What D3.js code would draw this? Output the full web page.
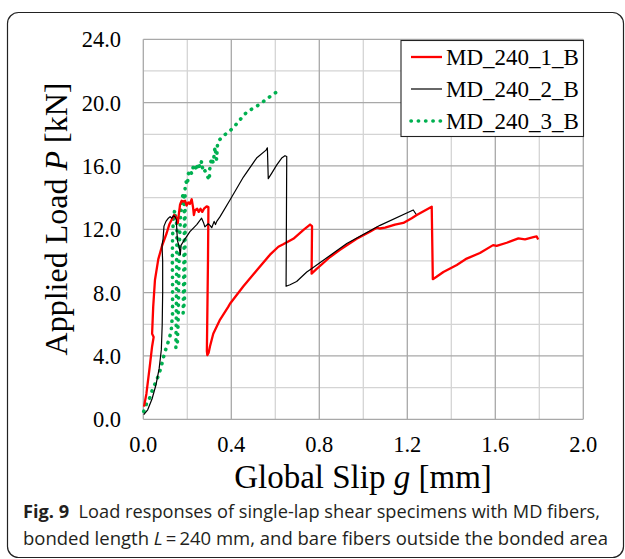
<!DOCTYPE html>
<html>
<head>
<meta charset="utf-8">
<script src="https://cdn.jsdelivr.net/npm/d3@7"></script>
<style>
  html, body { margin: 0; padding: 0; background: #fff; }
  svg { display: block; }
</style>
</head>
<body>
<svg id="chart" width="625" height="559"></svg>
<script>
// Load–slip responses, [slip g (mm), load P (kN)]
const specimen1 = [
  [0.003,0.8],[0.014,1.6],[0.029,3.3],[0.040,4.6],[0.047,5.2],[0.040,5.4],[0.045,7.1],[0.053,8.8],
  [0.068,10.1],[0.084,10.9],[0.106,11.75],[0.118,12.3],[0.129,12.6],[0.140,12.9],[0.150,12.75],
  [0.157,12.4],[0.162,13.0],[0.167,13.55],[0.174,13.8],[0.182,13.75],[0.190,13.8],[0.197,13.5],
  [0.205,13.7],[0.212,13.6],[0.220,13.9],[0.226,13.4],[0.230,12.9],[0.235,13.2],[0.245,13.3],
  [0.252,13.1],[0.260,13.3],[0.268,13.1],[0.276,13.3],[0.288,13.45],[0.296,13.4],[0.294,10.0],
  [0.289,4.3],[0.291,4.05],[0.297,4.2],[0.303,4.6],[0.318,5.4],[0.349,6.3],[0.386,7.1],[0.394,7.3],
  [0.455,8.4],[0.515,9.4],[0.576,10.4],[0.614,10.9],[0.636,11.05],[0.682,11.4],[0.727,11.95],
  [0.758,12.3],[0.767,12.2],[0.765,9.2],[0.788,9.5],[0.849,10.25],[0.894,10.7],[0.970,11.4],
  [1.030,11.85],[1.061,12.1],[1.075,12.05],[1.099,12.1],[1.144,12.3],[1.182,12.4],[1.220,12.7],
  [1.243,12.9],[1.311,13.43],[1.316,8.85],[1.333,9.0],[1.364,9.3],[1.425,9.75],[1.470,10.15],
  [1.530,10.5],[1.590,11.0],[1.606,10.95],[1.652,11.15],[1.705,11.43],[1.735,11.37],[1.773,11.5],
  [1.788,11.55],[1.795,11.35]
];
const specimen2 = [
  [0.002,0.3],[0.020,0.6],[0.040,1.3],[0.058,2.2],[0.072,3.2],[0.082,4.4],[0.086,6.0],[0.088,8.0],
  [0.088,10.0],[0.085,11.0],[0.090,11.4],[0.094,12.2],[0.103,12.5],[0.114,12.7],[0.122,12.8],
  [0.129,12.7],[0.137,12.85],[0.144,12.8],[0.150,12.6],[0.155,11.3],[0.163,10.9],[0.168,10.4],
  [0.172,11.0],[0.190,11.4],[0.212,11.85],[0.243,12.3],[0.265,12.7],[0.273,12.45],[0.280,12.15],
  [0.295,12.35],[0.303,12.25],[0.311,12.1],[0.322,12.5],[0.328,12.3],[0.334,12.5],[0.349,12.8],
  [0.394,13.85],[0.455,15.3],[0.515,16.5],[0.558,17.0],[0.564,17.15],[0.568,15.2],[0.584,15.55],
  [0.606,16.05],[0.629,16.5],[0.644,16.65],[0.652,16.6],[0.649,8.4],[0.667,8.5],[0.697,8.7],
  [0.720,9.0],[0.743,9.3],[0.758,9.45],[0.925,11.1],[1.076,12.25],[1.227,13.22],[1.240,12.95]
];
const specimen3 = [
  [0.002,0.5],[0.015,1.0],[0.029,1.35],[0.040,1.8],[0.055,2.3],[0.067,2.7],[0.079,3.2],[0.088,3.7],
  [0.097,4.2],[0.109,4.7],[0.120,5.2],[0.127,5.6],[0.133,6.7],[0.133,8.5],[0.132,10.0],[0.133,11.5],
  [0.137,12.8],[0.143,13.2],[0.153,12.2],[0.152,10.5],[0.151,8.5],[0.150,6.5],[0.148,4.5],
  [0.155,4.9],[0.158,6.0],[0.160,7.5],[0.162,9.5],[0.165,11.5],[0.170,13.0],[0.176,14.0],
  [0.185,14.3],[0.187,12.5],[0.185,10.5],[0.183,8.5],[0.181,6.7],[0.187,7.5],[0.189,9.5],
  [0.190,11.5],[0.190,13.5],[0.190,14.6],[0.195,15.0],[0.200,14.8],[0.205,15.5],[0.212,15.75],
  [0.220,15.5],[0.228,16.0],[0.235,16.1],[0.242,15.7],[0.250,16.2],[0.258,15.9],[0.265,16.3],
  [0.272,15.6],[0.280,15.7],[0.290,15.4],[0.300,15.1],[0.302,15.8],[0.310,16.5],[0.318,16.2],
  [0.326,17.2],[0.333,16.4],[0.338,17.5],[0.356,17.8],[0.382,18.1],[0.409,18.4],[0.432,18.8],
  [0.470,19.4],[0.500,19.65],[0.530,19.9],[0.558,20.2],[0.588,20.5],[0.614,20.75]
];

const seriesNames = ["MD_240_1_B", "MD_240_2_B", "MD_240_3_B"];
const xTicks = [0.0, 0.4, 0.8, 1.2, 1.6, 2.0];
const yTicks = [0.0, 4.0, 8.0, 12.0, 16.0, 20.0, 24.0];
const xMinorGrid = [0.2, 0.6, 1.0, 1.4, 1.8];
const yMinorGrid = [2, 6, 10, 14, 18, 22];

const svg = d3.select("#chart");

// panel frame
svg.append("rect")
  .attr("x", 7.5).attr("y", 12.5).attr("width", 616).attr("height", 545)
  .attr("rx", 11).attr("fill", "none").attr("stroke", "#222").attr("stroke-width", 1.2);

const plot = { left: 143.3, right: 583.3, top: 39.3, bottom: 419.3 };
const x = d3.scaleLinear().domain([0, 2]).range([plot.left, plot.right]);
const y = d3.scaleLinear().domain([0, 24]).range([plot.bottom, plot.top]);

const g = svg.append("g");

// grid: light lines between labelled ticks, darker at labelled ticks
g.selectAll(".vminor").data(xMinorGrid).join("line")
  .attr("x1", d => x(d)).attr("x2", d => x(d)).attr("y1", plot.top).attr("y2", plot.bottom)
  .attr("stroke", "#d4d4d4").attr("stroke-width", 1.3);
g.selectAll(".hminor").data(yMinorGrid).join("line")
  .attr("y1", d => y(d)).attr("y2", d => y(d)).attr("x1", plot.left).attr("x2", plot.right)
  .attr("stroke", "#d4d4d4").attr("stroke-width", 1.3);
g.selectAll(".vmajor").data(xTicks).join("line")
  .attr("x1", d => x(d)).attr("x2", d => x(d)).attr("y1", plot.top).attr("y2", plot.bottom)
  .attr("stroke", "#a8a8a8").attr("stroke-width", 1.3);
g.selectAll(".hmajor").data(yTicks).join("line")
  .attr("y1", d => y(d)).attr("y2", d => y(d)).attr("x1", plot.left).attr("x2", plot.right)
  .attr("stroke", "#a8a8a8").attr("stroke-width", 1.3);

// tick labels
const serif = "'Liberation Serif', 'Times New Roman', serif";
g.selectAll(".xl").data(xTicks).join("text")
  .attr("x", d => x(d)).attr("y", 452)
  .attr("text-anchor", "middle").attr("font-family", serif).attr("font-size", 22.5)
  .text(d => d3.format(".1f")(d));
g.selectAll(".yl").data(yTicks).join("text")
  .attr("x", 121).attr("y", d => y(d) + 8)
  .attr("text-anchor", "end").attr("font-family", serif).attr("font-size", 22.5)
  .text(d => d3.format(".1f")(d));

// axis titles
const xt = svg.append("text").attr("x", 363).attr("y", 488)
  .attr("text-anchor", "middle").attr("font-family", serif).attr("font-size", 33);
xt.append("tspan").text("Global Slip ");
xt.append("tspan").attr("font-style", "italic").text("g");
xt.append("tspan").text(" [mm]");

const yt = svg.append("text")
  .attr("transform", "translate(67,219) rotate(-90)")
  .attr("text-anchor", "middle").attr("font-family", serif).attr("font-size", 32);
yt.append("tspan").text("Applied Load ");
yt.append("tspan").attr("font-style", "italic").text("P");
yt.append("tspan").text(" [kN]");

// curves
const line = d3.line().x(d => x(d[0])).y(d => y(d[1]));
const styles = [
  { color: "#ff0000", width: 2.3, dash: null, cap: "butt" },
  { color: "#000000", width: 1.2, dash: null, cap: "butt" },
  { color: "#00b050", width: 3.6, dash: "0.3 7", cap: "round" }
];
const curves = [specimen1, specimen2, specimen3];
[2, 0, 1].forEach(i => {
  g.append("path").datum(curves[i]).attr("d", line)
    .attr("fill", "none").attr("stroke", styles[i].color)
    .attr("stroke-width", styles[i].width)
    .attr("stroke-linejoin", "round").attr("stroke-linecap", styles[i].cap)
    .attr("stroke-dasharray", styles[i].dash);
});

// legend
const lg = svg.append("g");
lg.append("rect").attr("x", 401).attr("y", 40.5).attr("width", 182.5).attr("height", 96)
  .attr("fill", "#fff").attr("stroke", "#222").attr("stroke-width", 1.1);
seriesNames.forEach((name, i) => {
  const yy = 57 + i * 32;
  lg.append("line").attr("x1", 411).attr("x2", 442).attr("y1", yy).attr("y2", yy)
    .attr("stroke", styles[i].color).attr("stroke-width", styles[i].width)
    .attr("stroke-linecap", styles[i].cap).attr("stroke-dasharray", styles[i].dash);
  lg.append("text").attr("x", 446).attr("y", yy + 8)
    .attr("font-family", serif).attr("font-size", 23).text(name);
});

// caption, slightly condensed to span the panel
const sans = "'Open Sans', 'Noto Sans', sans-serif";
const cap1 = svg.append("text").attr("x", 23).attr("y", 518)
  .attr("font-family", sans).attr("font-size", 17.5).attr("fill", "#231f20")
  .attr("textLength", 577).attr("lengthAdjust", "spacingAndGlyphs");
cap1.append("tspan").attr("font-weight", "bold").text("Fig. 9");
cap1.append("tspan").text("\u00a0\u00a0Load responses of single-lap shear specimens with MD fibers,");
const cap2 = svg.append("text").attr("x", 23).attr("y", 545)
  .attr("font-family", sans).attr("font-size", 17.5).attr("fill", "#231f20")
  .attr("textLength", 585).attr("lengthAdjust", "spacingAndGlyphs");
cap2.append("tspan").text("bonded length ");
cap2.append("tspan").attr("font-style", "italic").text("L");
cap2.append("tspan").text("\u2009=\u2009240 mm, and bare fibers outside the bonded area");
</script>
</body>
</html>
